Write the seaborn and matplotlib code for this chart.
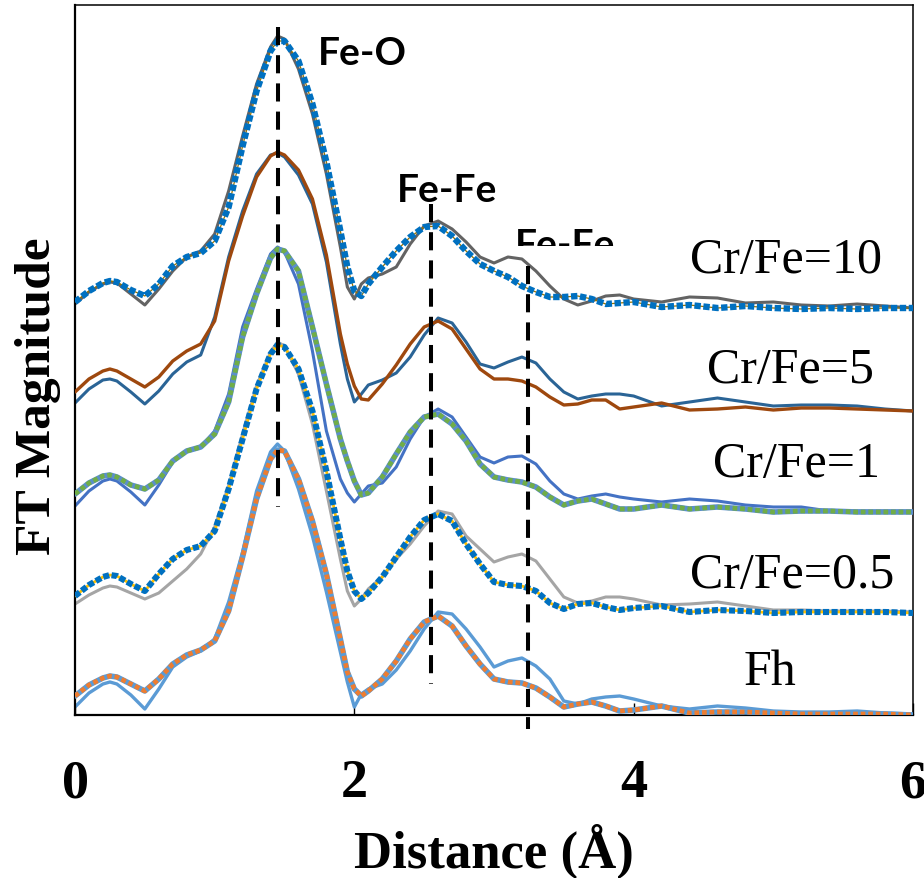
import matplotlib
matplotlib.use("Agg")
import matplotlib.pyplot as plt
from matplotlib.patches import Rectangle
import seaborn as sns

# Radial distance grid (Å)
distance = [0, 0.1, 0.2, 0.25, 0.3, 0.4, 0.5, 0.6, 0.7, 0.8, 0.9, 1.0, 1.1, 1.2, 1.3,
            1.4, 1.45, 1.5, 1.6, 1.7, 1.8, 1.9, 1.95, 2.0, 2.05, 2.1, 2.2, 2.3, 2.4, 2.5,
            2.6, 2.7, 2.8, 2.9, 3.0, 3.1, 3.2, 3.3, 3.4, 3.5, 3.6, 3.7, 3.8, 3.9, 4.0,
            4.2, 4.4, 4.6, 4.8, 5.0, 5.2, 5.4, 5.6, 5.8, 6.0]

# FT magnitude (offset-stacked, arbitrary units): data and fit for each sample
crfe10_data = [4.11, 4.23, 4.31, 4.33, 4.32, 4.21, 4.10, 4.26, 4.44, 4.58, 4.64, 4.81, 5.24, 5.79, 6.31,
               6.68, 6.79, 6.76, 6.46, 6.01, 5.41, 4.68, 4.28, 4.16, 4.31, 4.37, 4.41, 4.48, 4.71, 4.89,
               4.94, 4.86, 4.73, 4.58, 4.52, 4.58, 4.56, 4.44, 4.29, 4.16, 4.10, 4.14, 4.19, 4.20, 4.16,
               4.13, 4.18, 4.17, 4.12, 4.13, 4.10, 4.09, 4.11, 4.09, 4.07]
crfe10_fit = [4.13, 4.24, 4.32, 4.34, 4.33, 4.25, 4.19, 4.31, 4.49, 4.58, 4.62, 4.74, 5.08, 5.69, 6.24,
              6.64, 6.74, 6.74, 6.54, 6.11, 5.53, 4.84, 4.48, 4.24, 4.19, 4.31, 4.48, 4.64, 4.78, 4.88,
              4.89, 4.79, 4.64, 4.51, 4.44, 4.38, 4.29, 4.23, 4.18, 4.18, 4.19, 4.16, 4.11, 4.12, 4.13,
              4.08, 4.10, 4.07, 4.09, 4.07, 4.06, 4.07, 4.06, 4.07, 4.07]
crfe5_a = [3.12, 3.26, 3.35, 3.36, 3.34, 3.23, 3.11, 3.24, 3.41, 3.53, 3.60, 3.98, 4.58, 5.04, 5.41,
           5.60, 5.62, 5.58, 5.40, 5.11, 4.53, 3.71, 3.36, 3.13, 3.21, 3.30, 3.35, 3.42, 3.58, 3.80,
           3.97, 3.92, 3.73, 3.51, 3.47, 3.53, 3.58, 3.52, 3.36, 3.23, 3.16, 3.19, 3.21, 3.21, 3.19,
           3.09, 3.13, 3.17, 3.13, 3.09, 3.10, 3.10, 3.09, 3.06, 3.04]
crfe5_b = [3.23, 3.36, 3.44, 3.46, 3.44, 3.36, 3.28, 3.38, 3.54, 3.64, 3.71, 3.94, 4.54, 4.99, 5.38,
           5.59, 5.63, 5.60, 5.45, 5.16, 4.60, 3.81, 3.51, 3.29, 3.16, 3.15, 3.31, 3.50, 3.71, 3.88,
           3.94, 3.86, 3.66, 3.46, 3.36, 3.36, 3.34, 3.28, 3.18, 3.10, 3.11, 3.15, 3.15, 3.06, 3.08,
           3.12, 3.05, 3.06, 3.08, 3.05, 3.07, 3.07, 3.06, 3.05, 3.04]
crfe1_data = [2.09, 2.24, 2.34, 2.36, 2.34, 2.23, 2.10, 2.30, 2.53, 2.64, 2.68, 2.84, 3.21, 3.88, 4.26,
              4.61, 4.68, 4.63, 4.31, 3.64, 2.84, 2.36, 2.22, 2.13, 2.21, 2.29, 2.32, 2.48, 2.76, 2.98,
              3.06, 2.98, 2.78, 2.58, 2.52, 2.58, 2.59, 2.51, 2.34, 2.21, 2.16, 2.19, 2.21, 2.18, 2.16,
              2.13, 2.16, 2.14, 2.10, 2.08, 2.08, 2.04, 2.04, 2.04, 2.04]
crfe1_fit = [2.21, 2.32, 2.39, 2.40, 2.38, 2.30, 2.26, 2.35, 2.54, 2.64, 2.68, 2.81, 3.13, 3.78, 4.21,
             4.57, 4.66, 4.64, 4.44, 3.88, 3.31, 2.76, 2.54, 2.34, 2.20, 2.22, 2.38, 2.61, 2.83, 2.98,
             3.01, 2.91, 2.74, 2.51, 2.38, 2.35, 2.33, 2.28, 2.18, 2.10, 2.14, 2.16, 2.11, 2.06, 2.06,
             2.10, 2.06, 2.08, 2.06, 2.03, 2.04, 2.04, 2.03, 2.03, 2.03]
crfe05_data = [1.11, 1.20, 1.27, 1.29, 1.28, 1.22, 1.16, 1.22, 1.34, 1.46, 1.61, 1.88, 2.29, 2.81, 3.29,
               3.63, 3.73, 3.69, 3.41, 2.91, 2.24, 1.56, 1.24, 1.09, 1.16, 1.26, 1.38, 1.56, 1.71, 1.89,
               2.04, 2.01, 1.79, 1.66, 1.53, 1.58, 1.61, 1.54, 1.36, 1.18, 1.12, 1.14, 1.18, 1.18, 1.16,
               1.10, 1.11, 1.13, 1.09, 1.05, 1.05, 1.04, 1.04, 1.04, 1.03]
crfe05_fit = [1.19, 1.30, 1.38, 1.40, 1.39, 1.31, 1.24, 1.41, 1.56, 1.65, 1.69, 1.84, 2.26, 2.76, 3.26,
              3.61, 3.70, 3.68, 3.46, 3.04, 2.44, 1.76, 1.44, 1.24, 1.16, 1.22, 1.38, 1.58, 1.78, 1.95,
              2.01, 1.94, 1.71, 1.51, 1.33, 1.30, 1.29, 1.24, 1.12, 1.06, 1.11, 1.12, 1.08, 1.05, 1.07,
              1.09, 1.03, 1.05, 1.04, 1.02, 1.03, 1.03, 1.03, 1.03, 1.02]
fh_data = [0.08, 0.22, 0.31, 0.33, 0.31, 0.20, 0.06, 0.26, 0.48, 0.58, 0.64, 0.76, 1.13, 1.63, 2.24,
           2.63, 2.71, 2.64, 2.26, 1.79, 1.23, 0.63, 0.33, 0.08, 0.21, 0.26, 0.31, 0.45, 0.64, 0.86,
           1.03, 1.01, 0.86, 0.68, 0.48, 0.54, 0.57, 0.49, 0.36, 0.14, 0.11, 0.16, 0.18, 0.19, 0.16,
           0.09, 0.06, 0.09, 0.07, 0.04, 0.03, 0.03, 0.04, 0.02, 0.01]
fh_fit = [0.19, 0.30, 0.37, 0.39, 0.38, 0.31, 0.24, 0.36, 0.51, 0.60, 0.65, 0.74, 1.04, 1.58, 2.16,
          2.56, 2.65, 2.64, 2.36, 1.94, 1.41, 0.76, 0.43, 0.26, 0.19, 0.24, 0.36, 0.54, 0.76, 0.93,
          0.99, 0.89, 0.69, 0.51, 0.36, 0.33, 0.32, 0.27, 0.18, 0.08, 0.11, 0.13, 0.09, 0.04, 0.05,
          0.09, 0.02, 0.03, 0.03, 0.02, 0.01, 0.01, 0.01, 0.01, 0.00]

sample_labels = ["Cr/Fe=10", "Cr/Fe=5", "Cr/Fe=1", "Cr/Fe=0.5", "Fh"]
label_pos = [(4.40, 4.43), (4.525, 3.33), (4.57, 2.39), (4.40, 1.28), (4.79, 0.31)]

shell_labels = ["Fe-O", "Fe-Fe", "Fe-Fe"]
shell_r = [1.45, 2.55, 3.24]
shell_span = [(2.08, 6.88), (0.31, 5.11), (-0.14, 4.49)]
shell_text_pos = [(1.74, 6.51), (2.305, 5.14), (3.15, 4.59)]

x_ticks = [0, 2, 4, 6]

sns.set_theme(style="white")
plt.rcParams["font.family"] = ["Liberation Serif", "DejaVu Sans"]

fig = plt.figure(figsize=(9.24, 8.79), dpi=100)
ax = fig.add_axes([75 / 924, 1 - 716 / 879, 838 / 924, 710 / 879])

square_dot = (0, (1, 0.4))


def line(y, color, lw, ls="-", z=2):
    sns.lineplot(x=distance, y=y, ax=ax, color=color, linewidth=lw, linestyle=ls,
                 estimator=None, sort=False, legend=False, zorder=z)


# Cr/Fe=10
line(crfe10_data, "#636363", 2.2, z=2)
line(crfe10_fit, "#997300", 0.9, z=3)
line(crfe10_fit, "#0070C0", 4.6, square_dot, z=4)
# Cr/Fe=5
line(crfe5_a, "#2A6496", 2.2, z=2)
line(crfe5_b, "#9E480E", 2.4, z=3)
# Cr/Fe=1
line(crfe1_data, "#4472C4", 2.2, z=2)
line(crfe1_fit, "#5B8FC9", 4.0, z=3)
line(crfe1_fit, "#70AD47", 3.4, (0, (1, 0.6)), z=4)
# Cr/Fe=0.5
line(crfe05_data, "#A5A5A5", 2.2, z=2)
line(crfe05_fit, "#FFC000", 2.0, z=3)
line(crfe05_fit, "#0070C0", 4.4, square_dot, z=4)
# Fh
line(fh_data, "#5B9BD5", 2.4, z=2)
line(fh_fit, "#5B9BD5", 4.0, z=3)
line(fh_fit, "#ED7D31", 3.4, (0, (1, 0.6)), z=4)

# Shell positions, drawn top-down so the dash pattern starts at the top
for r, (y0, y1) in zip(shell_r, shell_span):
    ax.plot([r, r], [y1, y0], color="black", linewidth=2.9, linestyle=(0, (4.5, 2.5)),
            clip_on=False, zorder=5)

for i, (txt, (tx, ty)) in enumerate(zip(shell_labels, shell_text_pos)):
    t = ax.text(tx, ty, txt, family=["Lato", "DejaVu Sans"], weight="bold", fontsize=28,
                color="black", ha="left", va="baseline", zorder=1)
    if i == 2:
        t.set_clip_on(True)
        t.set_clip_path(Rectangle((0, 4.69), 6, 3, transform=ax.transData))

for txt, (tx, ty) in zip(sample_labels, label_pos):
    ax.text(tx, ty, txt, fontsize=36, color="black", ha="left", va="baseline", zorder=6)

ax.set_xlim(0, 6)
ax.set_ylim(0, 7.10)
ax.set_xticks(x_ticks)
ax.set_xticklabels([str(v) for v in x_ticks])
ax.set_yticks([])
ax.tick_params(axis="x", direction="in", length=9, width=1, pad=31, labelsize=39,
               colors="black", bottom=True)
for lbl in ax.get_xticklabels():
    lbl.set_fontweight("bold")

ax.set_xlabel("Distance (Å)", fontsize=38, fontweight="bold", color="black")
ax.set_ylabel("FT Magnitude", fontsize=37, fontweight="bold", color="black")
ax.xaxis.label.set_va("baseline")
ax.xaxis.set_label_coords(0.5, (716 - 868) / 710)
ax.yaxis.label.set_va("baseline")
ax.yaxis.set_label_coords((50 - 75) / 838, (716 - 396) / 710)

for side in ["left", "bottom"]:
    ax.spines[side].set_color("black")
    ax.spines[side].set_linewidth(1.6)
for side in ["top", "right"]:
    ax.spines[side].set_color("black")
    ax.spines[side].set_linewidth(1.1)

fig.savefig("out.png", dpi=100)
